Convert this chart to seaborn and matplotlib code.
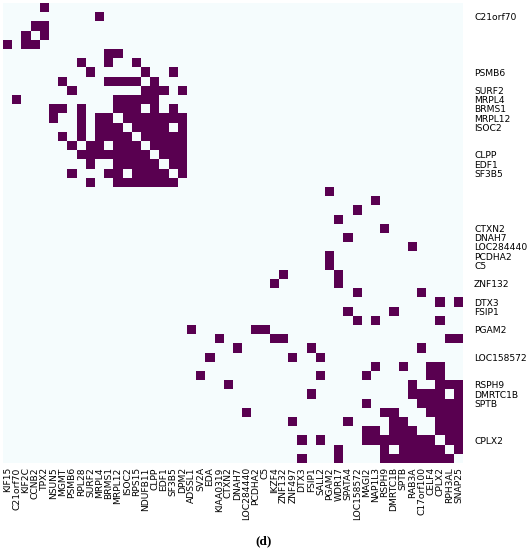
import numpy as np
import pandas as pd
import seaborn as sns
import matplotlib.pyplot as plt
from matplotlib.colors import ListedColormap

# gene order (same for rows and columns)
genes = ['KIF15', 'C21orf70', 'KIF2C', 'CCNB2', 'TPX2', 'NSUN5', 'MGMT', 'PSMB6',
         'RPL28', 'SURF2', 'MRPL4', 'BRMS1', 'MRPL12', 'ISOC2', 'RPS15', 'NDUFB11',
         'CLPP', 'EDF1', 'SF3B5', 'DPM2', 'ADSSL1', 'SV2A', 'EDA', 'KIAA0319',
         'CTXN2', 'DNAH7', 'LOC284440', 'PCDHA2', 'C5', 'IKZF4', 'ZNF132', 'ZNF497',
         'DTX3', 'FSIP1', 'SALL2', 'PGAM2', 'WDR17', 'SPATA4', 'LOC158572', 'MAGI2',
         'NAP1L3', 'RSPH9', 'DMRTC1B', 'SPTB', 'RAB3A', 'C17orf100', 'CELF4', 'CPLX2',
         'RPH3AL', 'SNAP25']

# row labels that are printed on the right side
shown_rows = ['C21orf70', 'PSMB6', 'SURF2', 'MRPL4', 'BRMS1', 'MRPL12', 'ISOC2',
              'CLPP', 'EDF1', 'SF3B5', 'CTXN2', 'DNAH7', 'LOC284440', 'PCDHA2', 'C5',
              'ZNF132', 'DTX3', 'FSIP1', 'PGAM2', 'LOC158572', 'RSPH9', 'DMRTC1B',
              'SPTB', 'CPLX2']

# upper triangle of the adjacency matrix: row index -> linked column indices
upper = {
    0: [4], 1: [10], 2: [3, 4], 3: [4],
    5: [11, 12], 6: [8, 11, 14], 7: [9, 15, 18],
    8: [11, 12, 13, 14, 16], 9: [15, 16, 17, 19],
    10: [12, 13, 14, 15, 16], 11: [12, 13, 14, 16, 18],
    12: [13, 14, 15, 16, 17, 18, 19], 13: [14, 15, 16, 17, 19],
    14: [15, 16, 17, 18, 19], 15: [16, 17, 18, 19],
    16: [17, 18, 19], 17: [18, 19], 18: [19],
    20: [35], 21: [40], 22: [38], 23: [36], 24: [41], 25: [37], 26: [44],
    27: [35], 28: [35], 29: [30, 36], 30: [36], 31: [38, 45], 32: [47, 49],
    33: [37, 42], 34: [38, 40, 47], 36: [48, 49], 37: [45],
    39: [40, 43, 46, 47], 40: [46, 47], 41: [44, 47, 48, 49],
    42: [44, 45, 46, 47, 49], 43: [45, 46, 47, 48, 49], 44: [46, 47, 48, 49],
    45: [47, 48, 49], 46: [47, 48, 49], 47: [48, 49], 48: [49],
}

n = len(genes)
mat = np.zeros((n, n))
for i, cols in upper.items():
    for j in cols:
        mat[i, j] = 1
        mat[j, i] = 1
df = pd.DataFrame(mat, index=genes, columns=genes)

ylabels = [g if g in shown_rows else '' for g in genes]

fig = plt.figure(figsize=(5.27, 5.5), dpi=100)
ax = fig.add_axes([3/527, 87/550, 460/527, 460/550])
sns.heatmap(df, cmap=ListedColormap(['#f5fcfd', '#590050']), vmin=0, vmax=1,
            cbar=False, ax=ax, xticklabels=genes, yticklabels=ylabels)
ax.yaxis.tick_right()
ax.tick_params(axis='y', labelrotation=0, length=0, pad=8, labelsize=6.6)
ax.tick_params(axis='x', labelrotation=90, length=0, pad=3, labelsize=6.6)
ax.set_xlabel('')
ax.set_ylabel('')

fig.text(0.5, 1 - 541/550, '(d)', ha='center', va='center', fontweight='bold',
         family='Liberation Serif', fontsize=9.5)

fig.savefig('out.png', dpi=100)
